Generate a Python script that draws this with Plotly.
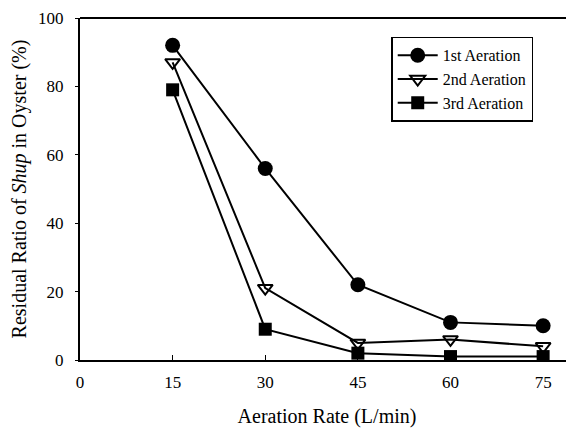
import plotly.graph_objects as go

rates = [15, 30, 45, 60, 75]
first = [92, 56, 22, 11, 10]
second = [87, 21, 5, 6, 4]
third = [79, 9, 2, 1, 1]
x_ticks = [0, 15, 30, 45, 60, 75]
y_ticks = [0, 20, 40, 60, 80, 100]

font = "Times New Roman, Liberation Serif, DejaVu Serif, serif"

fig = go.Figure()
series = [
    ("1st Aeration", first, dict(symbol="circle", size=15, color="black")),
    ("2nd Aeration", second, dict(symbol="triangle-down-open", size=13, color="black", line=dict(width=2, color="black"))),
    ("3rd Aeration", third, dict(symbol="square", size=13, color="black")),
]
for name, ys, mk in series:
    fig.add_trace(go.Scatter(x=rates, y=ys, name=name, mode="lines+markers",
                             line=dict(color="black", width=2), marker=mk))

fig.update_layout(
    width=574, height=430,
    margin=dict(l=72, r=8, t=10, b=78),
    paper_bgcolor="white", plot_bgcolor="white",
    font=dict(family=font, size=17, color="black"),
    showlegend=True,
    legend=dict(x=0.63, y=0.945, xanchor="left", yanchor="top",
                bordercolor="black", borderwidth=1.5, bgcolor="white",
                font=dict(family=font, size=16), tracegroupgap=0,
                itemwidth=40),
    xaxis=dict(range=[0, 80], tickvals=x_ticks, ticks="inside", ticklen=5,
               tickcolor="black", showline=True, linecolor="black", linewidth=2,
               mirror=False, showgrid=False, zeroline=False, automargin=False,
               ticklabeloverflow="allow", ticklabelstandoff=6,
               title=dict(text="Aeration Rate (L/min)", font=dict(family=font, size=20), standoff=18),
               tickfont=dict(family=font, size=17)),
    yaxis=dict(range=[0, 100], tickvals=y_ticks, ticks="outside", ticklen=3,
               tickcolor="black", showline=True, linecolor="black", linewidth=2,
               showgrid=False, zeroline=False, automargin=False,
               ticklabeloverflow="allow", ticklabelstandoff=8,
               title=dict(text="Residual Ratio of <i>Shup</i> in Oyster (%)", font=dict(family=font, size=20), standoff=14),
               tickfont=dict(family=font, size=17)),
)
fig.add_shape(type="line", xref="paper", yref="paper", x0=0, x1=1, y0=1, y1=1,
              line=dict(color="black", width=2))

fig.write_html("out.html")
